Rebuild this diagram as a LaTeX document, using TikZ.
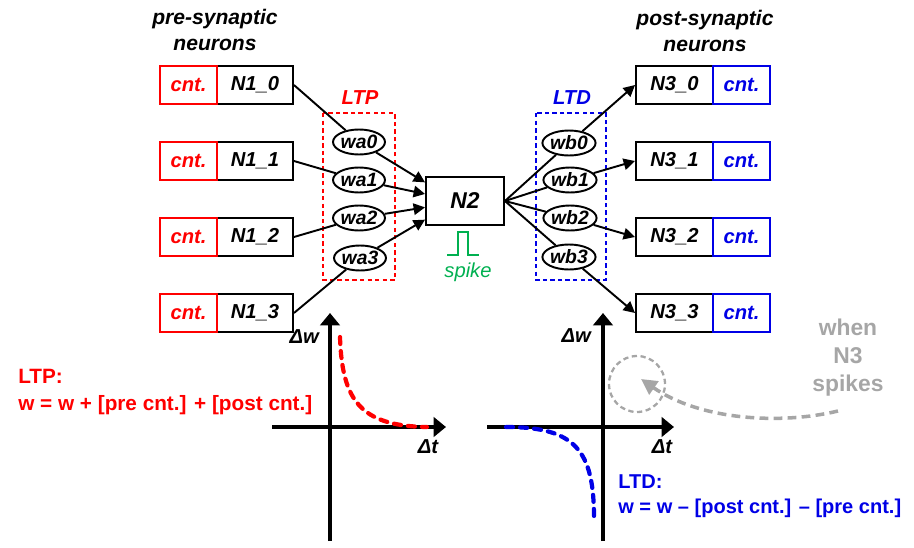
\documentclass[tikz,border=0pt]{standalone}
\usepackage{fontspec}
\setmainfont{Liberation Sans}
\usetikzlibrary{arrows.meta, shapes.geometric}
\definecolor{ltpred}{RGB}{255,0,0}
\definecolor{ltdblue}{RGB}{0,0,230}
\definecolor{spikegreen}{RGB}{0,176,80}
\definecolor{notegray}{RGB}{166,166,166}
\newcommand{\lblfont}{\fontsize{11.5}{13}\selectfont\bfseries\itshape}
\newcommand{\eqfont}{\fontsize{11.8}{15.3}\selectfont\bfseries}

\begin{document}
\begin{tikzpicture}[x=0.02cm, y=-0.02cm,
  neubox/.style  = {draw=black, line width=1.1pt, minimum width=1.52cm, minimum height=0.76cm, inner sep=0pt, font=\lblfont},
  precnt/.style  = {draw=ltpred, text=ltpred, line width=1.1pt, minimum width=1.14cm, minimum height=0.76cm, inner sep=0pt, font=\lblfont},
  postcnt/.style = {draw=ltdblue, text=ltdblue, line width=1.1pt, minimum width=1.14cm, minimum height=0.76cm, inner sep=0pt, font=\lblfont},
  wnode/.style   = {draw, ellipse, fill=white, line width=1.1pt, minimum width=1.04cm, minimum height=0.5cm, inner sep=0pt, font=\fontsize{11}{12}\selectfont\bfseries\itshape},
  wire/.style    = {line width=1.1pt},
  arr/.style     = {-{Triangle[length=6.5pt,width=6.5pt]}, line width=1.1pt},
  ltpbox/.style  = {draw=ltpred, line width=1.2pt, dash pattern=on 2.5pt off 1.8pt},
  ltdbox/.style  = {draw=ltdblue, line width=1.2pt, dash pattern=on 2.5pt off 1.8pt},
  axis/.style    = {-{Triangle[length=7pt,width=11pt]}, line width=2.4pt},
  titletxt/.style= {align=center, font=\fontsize{12}{14.7}\selectfont\bfseries\itshape},
  dlbl/.style    = {font=\lblfont},
  eqtxt/.style   = {font=\eqfont, align=left, anchor=west, inner sep=0pt},
]
\useasboundingbox (0,0) rectangle (914,548);
% column titles
\node[titletxt] (pretitle) at (215,30) {pre-synaptic\\neurons};
\node[titletxt] (posttitle) at (705,31) {post-synaptic\\neurons};
% pre-synaptic neurons
\node[neubox] (pre0) at (255,85) {N1\_0};
\node[neubox] (pre1) at (255,161) {N1\_1};
\node[neubox] (pre2) at (255,237) {N1\_2};
\node[neubox] (pre3) at (255,313) {N1\_3};
\node[precnt] (cntpre0) at (188.5,85) {cnt.};
\node[precnt] (cntpre1) at (188.5,161) {cnt.};
\node[precnt] (cntpre2) at (188.5,237) {cnt.};
\node[precnt] (cntpre3) at (188.5,313) {cnt.};
% post-synaptic neurons
\node[neubox, minimum width=1.54cm] (post0) at (674.5,85) {N3\_0};
\node[neubox, minimum width=1.54cm] (post1) at (674.5,161) {N3\_1};
\node[neubox, minimum width=1.54cm] (post2) at (674.5,237) {N3\_2};
\node[neubox, minimum width=1.54cm] (post3) at (674.5,313) {N3\_3};
\node[postcnt] (cntpost0) at (741.5,85) {cnt.};
\node[postcnt] (cntpost1) at (741.5,161) {cnt.};
\node[postcnt] (cntpost2) at (741.5,237) {cnt.};
\node[postcnt] (cntpost3) at (741.5,313) {cnt.};
% weight groups
\draw[ltpbox] (323,113) rectangle (395,280);
\draw[ltdbox] (536,113) rectangle (606,280);
\node[dlbl, text=ltpred] (ltplbl) at (360,98) {LTP};
\node[dlbl, text=ltdblue] (ltdlbl) at (572,98) {LTD};
\node[wnode] (wa0) at (359,142) {wa0};
\node[wnode] (wa1) at (359,180) {wa1};
\node[wnode] (wa2) at (359,218) {wa2};
\node[wnode] (wa3) at (360,258) {wa3};
\node[wnode] (wb0) at (569,143) {wb0};
\node[wnode] (wb1) at (570,180) {wb1};
\node[wnode] (wb2) at (570,218) {wb2};
\node[wnode] (wb3) at (569,257) {wb3};
% central neuron
\node[neubox, minimum width=1.56cm, minimum height=0.96cm, font=\fontsize{13}{15}\selectfont\bfseries\itshape] (n2) at (465,201) {N2};
\draw[spikegreen, line width=1.4pt] (447,255) -- (458,255) -- (458,232) -- (468,232) -- (468,255) -- (479,255);
\node[text=spikegreen, font=\fontsize{11.5}{13}\selectfont\itshape] (spk) at (468,272) {spike};
% connections
\draw[wire] (pre0.east) -- (wa0);
\draw[wire] (pre1.east) -- (wa1);
\draw[wire] (pre2.east) -- (wa2);
\draw[wire] (pre3.east) -- (wa3);
\draw[arr] (wa0) -- (n2.155);
\draw[arr] (wa1) -- (n2.170);
\draw[arr] (wa2) -- (n2.189);
\draw[arr] (wa3) -- (n2.205);
\draw[wire] (n2.east) -- (wb0);
\draw[wire] (n2.east) -- (wb1);
\draw[wire] (n2.east) -- (wb2);
\draw[wire] (n2.east) -- (wb3);
\draw[arr] (wb0) -- (post0.west);
\draw[arr] (wb1) -- (post1.west);
\draw[arr] (wb2) -- (post2.west);
\draw[arr] (wb3) -- (post3.west);
% LTP curve
\draw[axis] (330,541) -- (330,313);
\draw[axis] (272,427) -- (446,427);
\node[dlbl, anchor=east] (dwa) at (325,337) {Δw};
\node[dlbl] (dta) at (428,447) {Δt};
\draw[ltpred, line width=2.4pt, line cap=round, dash pattern=on 4pt off 4pt] (340,337) .. controls (342,400) and (360,426) .. (427,427);
\node[eqtxt, text=ltpred] (ltpeq) at (18,392) {LTP:\\w = w + [pre cnt.] + [post cnt.]};
% LTD curve
\draw[axis] (603,541) -- (603,313);
\draw[axis] (487,427) -- (674,427);
\node[dlbl, anchor=east] (dwb) at (597,336) {Δw};
\node[dlbl] (dtb) at (662,447) {Δt};
\draw[ltdblue, line width=2.4pt, line cap=round, dash pattern=on 4pt off 4pt] (506,427) .. controls (575,427) and (594,450) .. (594,518);
\node[eqtxt, text=ltdblue, font=\fontsize{11.4}{14.5}\selectfont\bfseries] (ltdeq) at (618,496) {LTD:\\w = w -- [post cnt.] -- [pre cnt.]};
% post spike note
\node[text=notegray, align=center, font=\fontsize{13}{15.9}\selectfont\bfseries] (whenN3) at (848,358) {when\\N3\\spikes};
\node[draw=notegray, circle, line width=1.3pt, dash pattern=on 3pt off 2pt, minimum size=1.12cm] (spkcirc) at (637,384) {};
\coordinate (notestart) at (838,411);
\coordinate (noteend) at (641,379);
\draw[notegray, line width=2pt, dash pattern=on 5pt off 3pt, -{Triangle[length=9pt,width=9pt]}] (notestart) .. controls (780,425) and (700,420) .. (noteend);
\end{tikzpicture}
\end{document}
